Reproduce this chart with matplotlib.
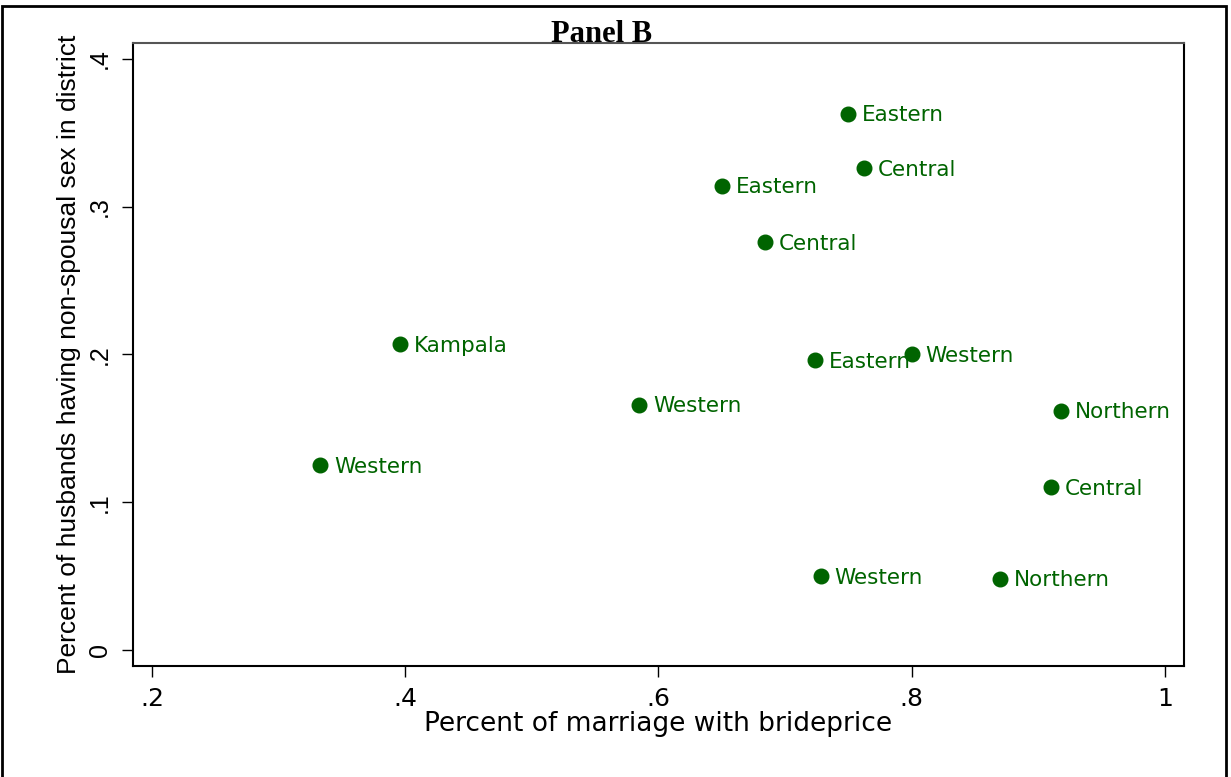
import matplotlib
matplotlib.use("Agg")
import matplotlib.pyplot as plt
from matplotlib.patches import Rectangle

# district points: share of marriages with brideprice vs husbands' non-spousal sex
regions = ["Eastern", "Central", "Eastern", "Central", "Kampala", "Western", "Western",
           "Eastern", "Western", "Northern", "Central", "Western", "Northern"]
brideprice = [0.750, 0.762, 0.650, 0.684, 0.396, 0.585, 0.333,
              0.724, 0.800, 0.918, 0.910, 0.728, 0.870]
nonspousal = [0.363, 0.326, 0.314, 0.276, 0.207, 0.166, 0.125,
              0.196, 0.200, 0.162, 0.110, 0.050, 0.048]

xticks = [0.2, 0.4, 0.6, 0.8, 1.0]
xticklabels = [".2", ".4", ".6", ".8", "1"]
yticks = [0, 0.1, 0.2, 0.3, 0.4]
yticklabels = ["0", ".1", ".2", ".3", ".4"]

green = "#006400"
# the source image is a bit stretched sideways, so wider glyphs for horizontal text
wide = ["DejaVu Sans"]
narrow = ["Liberation Sans", "DejaVu Sans"]
plt.rcParams["font.family"] = wide

fig = plt.figure(figsize=(12.31, 7.77), dpi=100)
ax = fig.add_axes([0.108, 0.1429, 0.8538, 0.8018])

ax.plot(brideprice, nonspousal, "o", color=green, markersize=10.5, linestyle="none")
for name, x, y in zip(regions, brideprice, nonspousal):
    ax.annotate(name, (x, y), xytext=(10, -1), textcoords="offset points",
                va="center", ha="left", fontsize=15.5, color=green)

ax.set_xlim(0.185, 1.015)
ax.set_ylim(-0.0108, 0.4108)
ax.set_xticks(xticks)
ax.set_xticklabels(xticklabels)
ax.set_yticks(yticks)
ax.set_yticklabels(yticklabels, rotation=90, va="center", family=narrow)
ax.tick_params(direction="out", length=8, width=1, labelsize=18, pad=7)

for s in ax.spines.values():
    s.set_linewidth(1.5)
    s.set_color("black")
ax.spines["top"].set_color("#555555")

ax.set_xlabel("Percent of marriage with brideprice", fontsize=19, labelpad=0)
ax.set_ylabel("Percent of husbands having non-spousal sex in district", fontsize=19,
              labelpad=5, family=narrow)

fig.text(0.489, 0.946, "Panel B", ha="center", va="baseline", fontsize=22,
         fontweight="bold", family="Liberation Serif")

# outer frame around the whole graph
fig.add_artist(Rectangle((2 / 1231, -0.01), 1224 / 1231, 1.01 - 6 / 777,
                         transform=fig.transFigure, fill=False,
                         edgecolor="black", linewidth=2))

fig.savefig("out.png", dpi=100)
